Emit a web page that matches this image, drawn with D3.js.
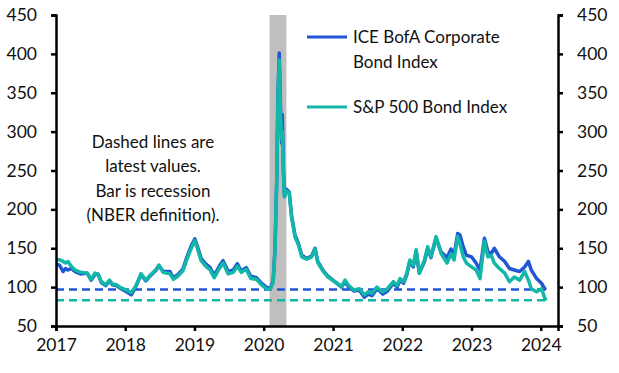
<!DOCTYPE html>
<html>
<head>
<meta charset="utf-8">
<script src="https://cdn.jsdelivr.net/npm/d3@7"></script>
<style>
  body { margin: 0; background: #fff; }
  text { font-family: Lato, "Open Sans", sans-serif; fill: #111; }
</style>
</head>
<body>
<div id="chart"></div>
<script>
// readings (spreads over benchmark, bp)
const dates = [
  "2017-01-02","2017-01-20","2017-02-08","2017-02-20","2017-03-05","2017-03-22","2017-04-12","2017-05-10",
  "2017-06-15","2017-07-05","2017-07-25","2017-08-10","2017-08-28","2017-09-20","2017-10-10","2017-10-25",
  "2017-11-15","2017-12-10","2018-01-08","2018-02-02","2018-02-25","2018-03-25","2018-04-20","2018-05-15",
  "2018-06-10","2018-06-28","2018-07-20","2018-08-25","2018-09-12","2018-10-05","2018-11-01","2018-11-20",
  "2018-12-15","2019-01-03","2019-01-20","2019-02-05","2019-03-01","2019-03-25","2019-04-15","2019-05-15",
  "2019-06-01","2019-06-28","2019-07-25","2019-08-15","2019-09-05","2019-10-01","2019-10-25","2019-11-25",
  "2019-12-20","2020-01-15","2020-02-05","2020-02-20","2020-03-01","2020-03-10","2020-03-16","2020-03-23",
  "2020-03-30","2020-04-05","2020-04-08","2020-04-15","2020-04-20","2020-04-30","2020-05-15","2020-05-27",
  "2020-06-15","2020-07-01","2020-07-20","2020-08-15","2020-09-10","2020-09-28","2020-10-12","2020-11-08",
  "2020-12-05","2021-01-10","2021-02-15","2021-03-05","2021-03-25","2021-04-22","2021-05-20","2021-06-15",
  "2021-07-05","2021-07-25","2021-08-20","2021-09-08","2021-09-20","2021-10-15","2021-11-15","2021-12-05",
  "2021-12-20","2022-01-08","2022-01-25","2022-02-10","2022-02-28","2022-03-15","2022-04-01","2022-04-28",
  "2022-05-15","2022-06-01","2022-06-28","2022-07-25","2022-08-25","2022-09-15","2022-10-01","2022-10-20",
  "2022-11-01","2022-11-18","2022-12-05","2023-01-01","2023-01-25","2023-02-15","2023-03-10","2023-03-28",
  "2023-04-15","2023-05-01","2023-05-28","2023-06-25","2023-07-20","2023-08-15","2023-09-12","2023-10-08",
  "2023-10-28","2023-11-12","2023-12-10","2024-01-05","2024-01-22","2024-01-30"
];
const iceBofA = [
  130,128,120,124,122,124,120,117,118,109,116,117,106,102,108,103,
  102,98,94,90,100,116,108,115,121,128,120,120,112,116,123,137,
  153,162,150,137,130,125,115,128,134,120,122,130,121,125,114,112,
  105,100,98,108,150,240,345,401,330,285,322,245,217,226,222,192,
  166,157,141,137,140,150,133,122,114,107,100,107,100,95,96,87,
  91,89,98,94,91,95,105,100,109,105,116,133,126,146,118,133,
  150,138,163,145,138,149,141,169,167,152,141,139,131,122,163,146,
  143,150,139,133,124,122,120,126,133,122,111,105,98,97
];
const sp500 = [
  136,135,133,131,133,127,122,119,118,110,118,117,107,103,109,104,
  103,99,96,93,101,117,109,116,122,128,119,117,110,114,121,134,
  150,160,147,134,127,122,112,125,131,117,119,127,119,123,111,110,
  103,98,97,106,150,236,340,392,320,290,300,242,216,224,221,190,
  164,155,139,136,139,149,132,121,113,107,101,109,102,96,98,90,
  94,92,100,96,94,98,107,102,111,107,118,135,128,148,118,135,
  152,139,165,143,131,143,135,165,156,139,131,126,122,111,159,139,
  141,131,124,118,107,113,109,120,109,98,94,98,86,83
];
const latest = [97, 83];
const recession = ["2020-02-01", "2020-04-30"];
const yTicks = [50, 100, 150, 200, 250, 300, 350, 400, 450];
const xTicks = [2017, 2018, 2019, 2020, 2021, 2022, 2023, 2024];
const seriesNames = [["ICE BofA Corporate", "Bond Index"], ["S&P 500 Bond Index"]];
const colors = ["#2056d3", "#12b7a7"];
const note = ["Dashed lines are", "latest values.", "Bar is recession", "(NBER definition)."];

const W = 619, H = 373;
const m = { left: 56, right: 61, top: 15, bottom: 47 };
const parse = d3.timeParse("%Y-%m-%d");

const svg = d3.select("#chart").append("svg")
  .attr("width", W).attr("height", H);

const x = d3.scaleTime()
  .domain([new Date(2017, 0, 1), new Date(2024, 3, 1)])
  .range([m.left, W - m.right]);
const y = d3.scaleLinear().domain([50, 450]).range([H - m.bottom, m.top]);

// recession bar
svg.append("rect")
  .attr("x", x(parse(recession[0])))
  .attr("width", x(parse(recession[1])) - x(parse(recession[0])))
  .attr("y", y(450))
  .attr("height", y(50) - y(450))
  .attr("fill", "#bfbfbf");

// dashed latest-value lines
const lastDate = parse(dates[dates.length - 1]);
latest.forEach((v, i) => {
  svg.append("line")
    .attr("x1", x.range()[0]).attr("x2", x(lastDate))
    .attr("y1", y(v)).attr("y2", y(v))
    .attr("stroke", colors[i])
    .attr("stroke-width", 2.5)
    .attr("stroke-dasharray", "8,5");
});

const line = d3.line()
  .x((d) => x(d[0]))
  .y((d) => y(d[1]));

[iceBofA, sp500].forEach((vals, i) => {
  svg.append("path")
    .datum(dates.map((d, j) => [parse(d), vals[j]]))
    .attr("fill", "none")
    .attr("stroke", colors[i])
    .attr("stroke-width", 3.5)
    .attr("stroke-linejoin", "round")
    .attr("d", line);
});

// axes
const fmt = d3.format("d");
const styleAxis = (g) => {
  g.select(".domain").attr("stroke", "#000").attr("stroke-width", 2.5);
  g.selectAll(".tick line").attr("stroke", "#000").attr("stroke-width", 2.5);
  g.selectAll(".tick text").style("font-size", "17.5px").attr("fill", "#111");
};

svg.append("g")
  .attr("transform", `translate(${m.left},0)`)
  .call(d3.axisLeft(y).tickValues(yTicks).tickFormat(fmt).tickSizeOuter(0).tickSize(5).tickPadding(14))
  .call(styleAxis);

svg.append("g")
  .attr("transform", `translate(${W - m.right},0)`)
  .call(d3.axisRight(y).tickValues(yTicks).tickFormat(fmt).tickSizeOuter(0).tickSize(5).tickPadding(14))
  .call(styleAxis);

svg.append("g")
  .attr("transform", `translate(0,${H - m.bottom})`)
  .call(d3.axisBottom(x).tickValues(xTicks.map((t) => new Date(t, 0, 1)))
    .tickFormat(d3.timeFormat("%Y")).tickSizeOuter(0).tickSize(5).tickPadding(8))
  .call(styleAxis);

// legend
let ly = 37;
seriesNames.forEach((lines, i) => {
  svg.append("line")
    .attr("x1", 307).attr("x2", 347)
    .attr("y1", ly).attr("y2", ly)
    .attr("stroke", colors[i]).attr("stroke-width", 3);
  lines.forEach((t, k) => {
    svg.append("text")
      .attr("x", 353).attr("y", ly + k * 25)
      .attr("dy", "0.35em")
      .style("font-size", "17px")
      .text(t);
  });
  ly += 70;
});

// note
svg.append("g").selectAll("text")
  .data(note)
  .join("text")
  .attr("x", 153)
  .attr("y", (d, i) => 142 + i * 24.5)
  .attr("dy", "0.35em")
  .attr("text-anchor", "middle")
  .style("font-size", "17px")
  .text((d) => d);
</script>
</body>
</html>
